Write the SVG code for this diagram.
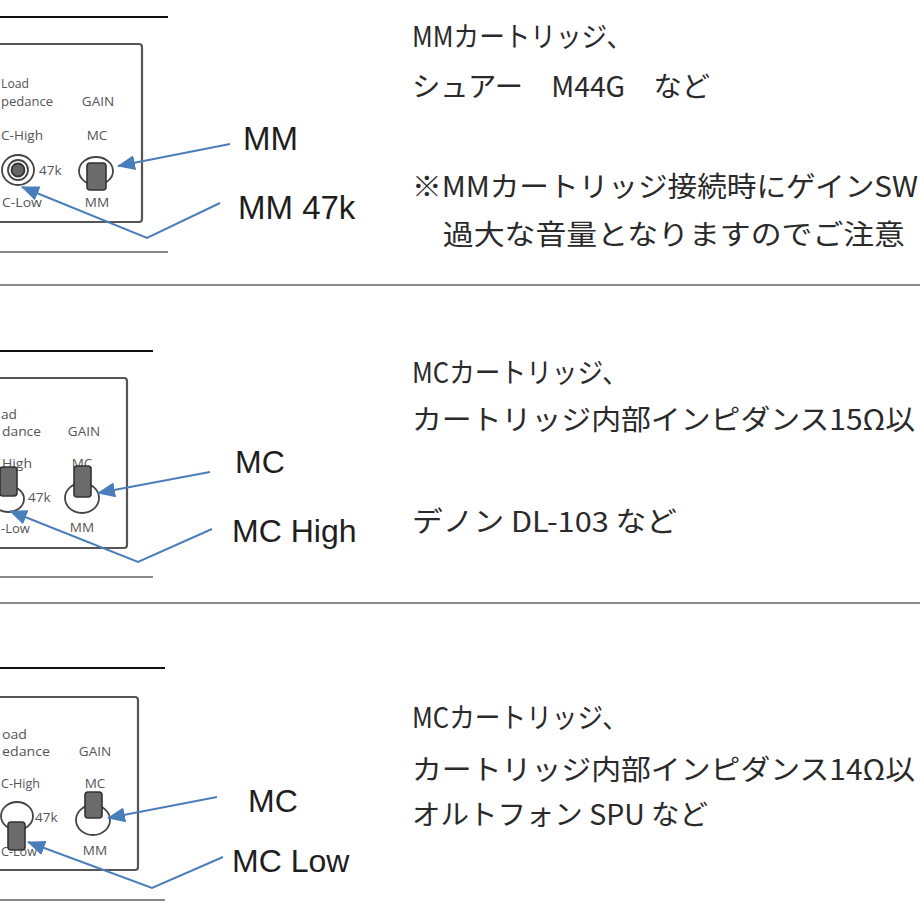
<svg xmlns="http://www.w3.org/2000/svg" width="920" height="920" viewBox="0 0 920 920">
<style>
.bg{fill:#ffffff}
.topline{stroke:#111;stroke-width:2}
.botline{stroke:#888;stroke-width:2}
.sep{stroke:#8a8a8a;stroke-width:2}
.box{fill:#fff;stroke:#555;stroke-width:2.2}
.pt{font-family:"Open Sans","DejaVu Sans",sans-serif;font-size:13.5px;fill:#555}
.ring{fill:#fff;stroke:#444;stroke-width:1.8}
.lever{fill:#6b6b6b;stroke:#333;stroke-width:1.6}
.dot{fill:#666;stroke:#333;stroke-width:1.8}
.lbl{font-family:"Liberation Sans",Arial,sans-serif;font-size:32px;fill:#1e1e1e}
.jp{font-family:"Noto Sans CJK JP",sans-serif;font-size:28px;fill:#2a2a2a}
.conn{fill:none;stroke:#4a7ebb;stroke-width:2;marker-end:url(#ah)}
</style>
<defs>
<marker id="ah" viewBox="0 0 18 15" refX="17" refY="7.5" markerWidth="18" markerHeight="15" markerUnits="userSpaceOnUse" orient="auto">
<path d="M0,0 L18,7.5 L0,15 z" fill="#4a7ebb"/>
</marker>
</defs>
<rect class="bg" x="0" y="0" width="920" height="920"/>

<g id="separators">
<line class="sep" x1="0" y1="285" x2="920" y2="285"/>
<line class="sep" x1="0" y1="603" x2="920" y2="603"/>
</g>

<g id="panel-mm">
<line class="topline" x1="0" y1="17" x2="168" y2="17"/>
<rect class="box" x="-20" y="44" width="162" height="178" rx="3"/>
<line class="botline" x1="0" y1="252" x2="168" y2="252"/>
<text class="pt" x="1" y="88" textLength="28" lengthAdjust="spacingAndGlyphs">Load</text>
<text class="pt" x="1" y="106" textLength="52" lengthAdjust="spacingAndGlyphs">pedance</text>
<text class="pt" x="98" y="106" text-anchor="middle">GAIN</text>
<text class="pt" x="1" y="140" textLength="42" lengthAdjust="spacingAndGlyphs">C-High</text>
<text class="pt" x="97" y="140" text-anchor="middle">MC</text>
<text class="pt" x="39" y="175">47k</text>
<text class="pt" x="2" y="207" textLength="40" lengthAdjust="spacingAndGlyphs">C-Low</text>
<text class="pt" x="97" y="207" text-anchor="middle">MM</text>
<ellipse class="ring" cx="18" cy="170" rx="16" ry="15"/>
<circle class="ring" cx="18" cy="170" r="10"/>
<circle class="dot" cx="18" cy="170" r="6.5"/>
<ellipse class="ring" cx="96" cy="171" rx="17" ry="14"/>
<rect class="lever" x="87" y="163" width="19" height="27" rx="3"/>
</g>

<g id="panel-mc-high">
<line class="topline" x1="0" y1="351" x2="153" y2="351"/>
<rect class="box" x="-20" y="378" width="147" height="170" rx="3"/>
<line class="botline" x1="0" y1="577" x2="153" y2="577"/>
<text class="pt" x="1" y="419" textLength="16" lengthAdjust="spacingAndGlyphs">ad</text>
<text class="pt" x="2" y="436" textLength="39" lengthAdjust="spacingAndGlyphs">dance</text>
<text class="pt" x="84" y="436" text-anchor="middle">GAIN</text>
<text class="pt" x="2" y="468" textLength="30" lengthAdjust="spacingAndGlyphs">High</text>
<text class="pt" x="82" y="468" text-anchor="middle">MC</text>
<text class="pt" x="28" y="502">47k</text>
<text class="pt" x="1" y="533" textLength="29" lengthAdjust="spacingAndGlyphs">-Low</text>
<text class="pt" x="82" y="532" text-anchor="middle">MM</text>
<ellipse class="ring" cx="8" cy="499" rx="16" ry="13"/>
<rect class="lever" x="0" y="467" width="17" height="29" rx="3"/>
<ellipse class="ring" cx="82" cy="498" rx="17" ry="15"/>
<rect class="lever" x="74" y="466" width="17" height="31" rx="3"/>
</g>

<g id="panel-mc-low">
<line class="topline" x1="0" y1="668" x2="165" y2="668"/>
<rect class="box" x="-20" y="697" width="158" height="173" rx="3"/>
<line class="botline" x1="0" y1="900" x2="165" y2="900"/>
<text class="pt" x="2" y="739" textLength="25" lengthAdjust="spacingAndGlyphs">oad</text>
<text class="pt" x="2" y="756" textLength="48" lengthAdjust="spacingAndGlyphs">edance</text>
<text class="pt" x="95" y="756" text-anchor="middle">GAIN</text>
<text class="pt" x="1" y="788" textLength="39" lengthAdjust="spacingAndGlyphs">C-High</text>
<text class="pt" x="95" y="788" text-anchor="middle">MC</text>
<text class="pt" x="35" y="822">47k</text>
<text class="pt" x="1" y="856" textLength="36" lengthAdjust="spacingAndGlyphs">C-Low</text>
<text class="pt" x="95" y="855" text-anchor="middle">MM</text>
<ellipse class="ring" cx="17" cy="816" rx="16" ry="14"/>
<rect class="lever" x="8" y="822" width="17" height="28" rx="3"/>
<ellipse class="ring" cx="93" cy="820" rx="17" ry="15"/>
<rect class="lever" x="85" y="792" width="17" height="26" rx="3"/>
</g>

<g id="connectors">
<line class="conn" x1="230" y1="144" x2="118" y2="166"/>
<polyline class="conn" points="220,203 147,238 22,187"/>
<line class="conn" x1="210" y1="472" x2="98" y2="493"/>
<polyline class="conn" points="212,529 138,562 10,511"/>
<line class="conn" x1="217" y1="797" x2="108" y2="818"/>
<polyline class="conn" points="223,857 152,888 28,842"/>
</g>

<g id="labels">
<text class="lbl" x="243" y="150" style="font-size:33px">MM</text>
<text class="lbl" x="238" y="219" style="font-size:33px">MM 47k</text>
<text class="lbl" x="235" y="473">MC</text>
<text class="lbl" x="232" y="542">MC High</text>
<text class="lbl" x="248" y="812">MC</text>
<text class="lbl" x="232" y="872">MC Low</text>
</g>

<g id="notes">
<text class="jp" x="412" y="47" textLength="220" lengthAdjust="spacingAndGlyphs">MMカートリッジ、</text>
<text class="jp" x="412" y="97" textLength="298" lengthAdjust="spacingAndGlyphs">シュアー　M44G　など</text>
<text class="jp" x="412" y="197" textLength="506" lengthAdjust="spacingAndGlyphs">※MMカートリッジ接続時にゲインSW</text>
<text class="jp" x="412" y="245" textLength="493" lengthAdjust="spacingAndGlyphs">　過大な音量となりますのでご注意</text>
<text class="jp" x="412" y="383" textLength="216" lengthAdjust="spacingAndGlyphs">MCカートリッジ、</text>
<text class="jp" x="412" y="430" textLength="503" lengthAdjust="spacingAndGlyphs">カートリッジ内部インピダンス15Ω以</text>
<text class="jp" x="412" y="532" textLength="265" lengthAdjust="spacingAndGlyphs">デノン DL-103 など</text>
<text class="jp" x="412" y="728" textLength="216" lengthAdjust="spacingAndGlyphs">MCカートリッジ、</text>
<text class="jp" x="412" y="780" textLength="503" lengthAdjust="spacingAndGlyphs">カートリッジ内部インピダンス14Ω以</text>
<text class="jp" x="412" y="825" textLength="296" lengthAdjust="spacingAndGlyphs">オルトフォン SPU など</text>
</g>
</svg>
